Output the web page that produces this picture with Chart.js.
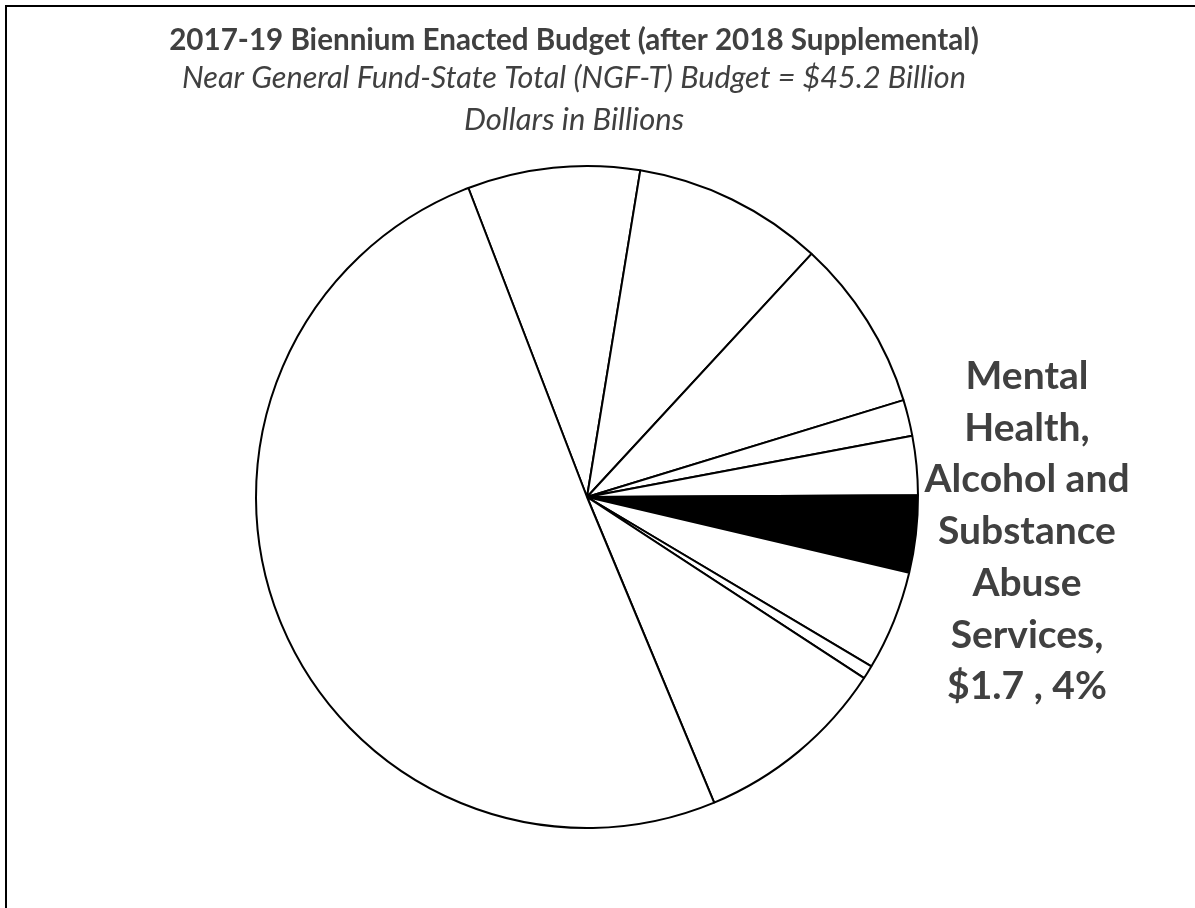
<!DOCTYPE html>
<html>
<head>
<meta charset="utf-8">
<script src="https://cdn.jsdelivr.net/npm/chart.js@4"></script>
<style>
  body { margin: 0; background: #fff; }
</style>
</head>
<body>
<canvas id="budgetChart" width="1195" height="908"></canvas>
<script>
const categories = [
  "Higher Education",
  "Long-Term Care and Developmental Disabilities",
  "Corrections and Other Human Services",
  "Children's Services",
  "Economic Services",
  "Mental Health, Alcohol and Substance Abuse Services",
  "Other Health Care",
  "Natural Resources",
  "Other",
  "K-12 Public Schools",
];
const billions = [3.8, 4.2, 3.8, 0.8, 1.3, 1.7, 2.2, 0.3, 4.3, 22.8];
const sliceFills = ["#fff", "#fff", "#fff", "#fff", "#fff", "#000", "#fff", "#fff", "#fff", "#fff"];
const titleLines = [
  "2017-19 Biennium Enacted Budget (after 2018 Supplemental)",
  "Near General Fund-State Total (NGF-T) Budget = $45.2 Billion",
  "Dollars in Billions",
];
const labelLines = ["Mental", "Health,", "Alcohol and", "Substance", "Abuse", "Services,", "$1.7 , 4%"];

const textColor = "#404040";

const framePlugin = {
  id: "frame",
  beforeDraw: (chart) => {
    const c = chart.ctx;
    c.save();
    c.fillStyle = "#fff";
    c.fillRect(0, 0, chart.width, chart.height);
    c.strokeStyle = "#000";
    c.lineWidth = 2;
    c.beginPath();
    c.moveTo(6, chart.height);
    c.lineTo(6, 6);
    c.lineTo(chart.width, 6);
    c.stroke();
    c.restore();
  },
};

const textPlugin = {
  id: "texts",
  afterDraw: (chart) => {
    const c = chart.ctx;
    c.save();
    c.fillStyle = textColor;
    c.textAlign = "center";
    c.textBaseline = "alphabetic";
    c.font = "bold 29.6px Lato";
    c.fillText(titleLines[0], 574, 50);
    c.font = "italic 30.6px Lato";
    c.fillText(titleLines[1], 574, 88);
    c.font = "italic 31px Lato";
    c.fillText(titleLines[2], 574, 130);

    c.font = "bold 39px Lato";
    labelLines.forEach((line, i) => {
      c.fillText(line, 1027, 389 + i * 51.7);
    });
    c.restore();
  },
};

const ctx = document.getElementById("budgetChart").getContext("2d");

new Chart(ctx, {
  type: "pie",
  data: {
    labels: categories,
    datasets: [
      {
        data: billions,
        backgroundColor: sliceFills,
        borderColor: "#000",
        borderWidth: 2,
        hoverOffset: 0,
      },
    ],
  },
  options: {
    responsive: false,
    animation: false,
    rotation: -21,
    layout: {
      padding: { left: 255, right: 276, top: 165, bottom: 79 },
    },
    plugins: {
      legend: { display: false },
      tooltip: { enabled: false },
    },
  },
  plugins: [framePlugin, textPlugin],
});
</script>
</body>
</html>
